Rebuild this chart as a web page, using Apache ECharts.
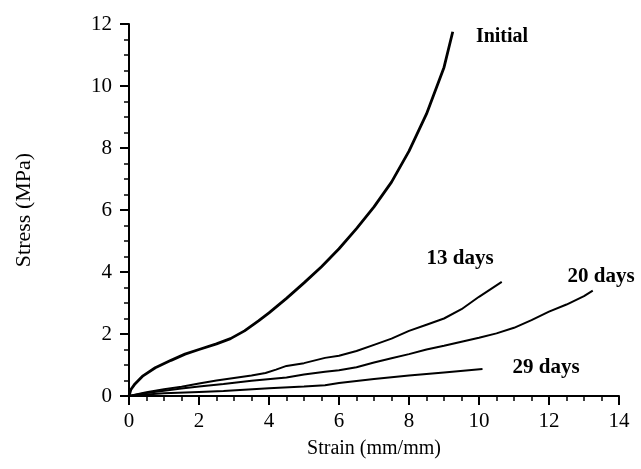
<!DOCTYPE html>
<html><head><meta charset="utf-8">
<script src="https://cdn.jsdelivr.net/npm/echarts@6/dist/echarts.min.js"></script>
<style>html,body{margin:0;padding:0;background:#fff}#c{width:641px;height:469px}</style>
</head><body><div id="c"></div>
<script>
const initialData = [[0,0],[0.05,0.2],[0.17,0.39],[0.4,0.65],[0.75,0.91],[1.2,1.15],[1.6,1.35],[2,1.5],[2.5,1.68],[2.9,1.85],[3.3,2.1],[3.7,2.42],[4,2.68],[4.5,3.15],[5,3.65],[5.5,4.17],[6,4.75],[6.5,5.4],[7,6.1],[7.5,6.9],[8,7.9],[8.5,9.1],[9,10.6],[9.25,11.75]];
const days13Data = [[0,0],[0.5,0.12],[1,0.22],[1.5,0.3],[2,0.4],[2.5,0.5],[3,0.58],[3.5,0.66],[3.9,0.74],[4.2,0.85],[4.5,0.97],[5,1.06],[5.6,1.23],[6,1.3],[6.5,1.45],[7,1.65],[7.5,1.85],[8,2.1],[8.5,2.3],[9,2.5],[9.5,2.8],[10,3.2],[10.65,3.68]];
const days20Data = [[0,0],[0.5,0.1],[1,0.17],[1.5,0.24],[2,0.31],[2.7,0.39],[3.5,0.49],[4.5,0.6],[5,0.69],[5.6,0.78],[6,0.83],[6.5,0.93],[7,1.08],[7.5,1.22],[8,1.35],[8.5,1.5],[9,1.62],[9.5,1.75],[10,1.88],[10.5,2.02],[11,2.2],[11.5,2.45],[12,2.72],[12.5,2.95],[13,3.22],[13.25,3.4]];
const days29Data = [[0,0],[0.5,0.05],[1,0.09],[2,0.13],[2.7,0.16],[4,0.25],[5,0.31],[5.6,0.35],[6,0.42],[7,0.55],[8,0.66],[9,0.76],[10.1,0.87]];
const seriesNames = ['Initial','13 days','20 days','29 days'];
const xTitle = 'Strain (mm/mm)';
const yTitle = 'Stress (MPa)';

const font = '"Liberation Serif", "DejaVu Serif", serif';
const chart = echarts.init(document.getElementById('c'));
function mk(name, data, width) {
  return {
    name, type: 'line', data, showSymbol: false, smooth: false,
    lineStyle: {color: '#000', width}, silent: true, animation: false
  };
}
const axisCommon = {
  axisLine: {lineStyle: {color: '#000', width: 2}},
  axisTick: {inside: false, length: 9, lineStyle: {color: '#000', width: 2}},
  minorTick: {show: true, splitNumber: 4, length: 5, lineStyle: {color: '#000', width: 1.5}},
  splitLine: {show: false},
  axisLabel: {color: '#000', fontFamily: font, fontSize: 21},
  nameLocation: 'middle',
  nameTextStyle: {color: '#000', fontFamily: font, fontSize: 20}
};
chart.setOption({
  animation: false,
  grid: {left: 129, right: 22, top: 24, bottom: 73},
  xAxis: Object.assign({}, axisCommon, {type: 'value', min: 0, max: 14, interval: 2, name: xTitle, nameGap: 43,
    axisLabel: Object.assign({}, axisCommon.axisLabel, {margin: 15})}),
  yAxis: Object.assign({}, axisCommon, {type: 'value', min: 0, max: 12, interval: 2, name: yTitle, nameGap: 94,
    nameTextStyle: {color: '#000', fontFamily: font, fontSize: 22},
    axisLabel: Object.assign({}, axisCommon.axisLabel, {margin: 17})}),
  series: [
    mk(seriesNames[0], initialData, 2.8),
    mk(seriesNames[1], days13Data, 2),
    mk(seriesNames[2], days20Data, 2),
    mk(seriesNames[3], days29Data, 2)
  ],
  graphic: [
    {type: 'text', x: 502, y: 37, style: {text: seriesNames[0], fill: '#000', font: 'bold 20px ' + font, align: 'center', verticalAlign: 'middle'}},
    {type: 'text', x: 460, y: 259, style: {text: seriesNames[1], fill: '#000', font: 'bold 21px ' + font, align: 'center', verticalAlign: 'middle'}},
    {type: 'text', x: 601, y: 277, style: {text: seriesNames[2], fill: '#000', font: 'bold 21px ' + font, align: 'center', verticalAlign: 'middle'}},
    {type: 'text', x: 546, y: 368, style: {text: seriesNames[3], fill: '#000', font: 'bold 21px ' + font, align: 'center', verticalAlign: 'middle'}}
  ]
});
</script></body></html>
